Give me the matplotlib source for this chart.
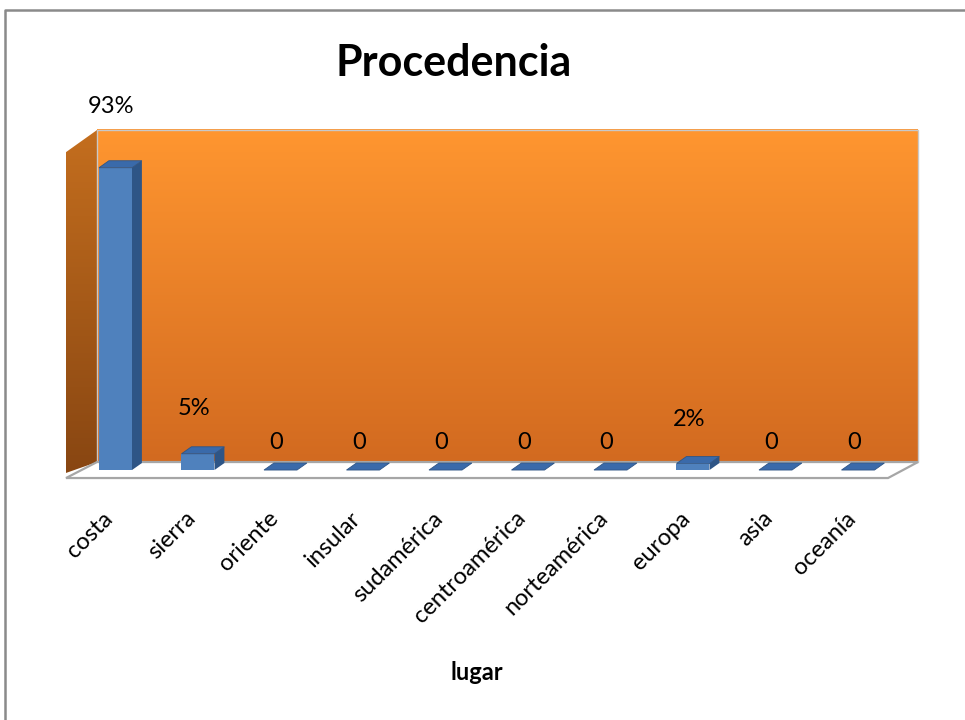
import matplotlib
matplotlib.use("Agg")
import matplotlib.pyplot as plt
import numpy as np
from matplotlib.patches import Polygon
from matplotlib.lines import Line2D

# ---------------- data ----------------
categories = ["costa", "sierra", "oriente", "insular", "sudamérica",
              "centroamérica", "norteamérica", "europa", "asia", "oceanía"]
values = [0.93, 0.05, 0, 0, 0, 0, 0, 0.02, 0, 0]
value_labels = ["93%", "5%", "0", "0", "0", "0", "0", "2%", "0", "0"]
title = "Procedencia"
xlabel = "lugar"

# ---------------- style ----------------
FONT = "Lato"
W, H = 965, 720
fig = plt.figure(figsize=(W / 100, H / 100), dpi=100)
ax = fig.add_axes([0, 0, 1, 1])
XLIM = (-1.4, 10.297)
YLIM = (-0.769, 1.446)

# depth geometry (style constants, data units)
bar_w = 0.40
bdx, bdy = 0.12, 0.0215          # bar depth offset
fy = 0.0246                      # floor half depth (y)
floor_front = (-0.60, 9.364)
floor_back = (-0.224, 9.727)
wall_top = 1.046

def gradient(c_top, c_bot, n=256):
    t = np.linspace(0, 1, n)[:, None]
    a = np.array(c_top)[None, :] / 255.0
    b = np.array(c_bot)[None, :] / 255.0
    return (a * (1 - t) + b * t)[:, None, :]

# back wall
bx0, bx1 = floor_back
ax.imshow(gradient((255, 150, 48), (210, 106, 32)), extent=(bx0, bx1, fy, wall_top),
          origin="upper", aspect="auto", zorder=1)
ax.add_patch(Polygon([(bx0, fy), (bx1, fy), (bx1, wall_top), (bx0, wall_top)],
                     closed=True, fill=False, edgecolor="#c8c8c8", lw=1, zorder=1.1))

# left wall
lw_poly = Polygon([(floor_front[0], -0.009), (bx0, fy), (bx0, wall_top), (floor_front[0], 0.978)],
                  closed=True, facecolor="none", edgecolor="none", zorder=1)
ax.add_patch(lw_poly)
im2 = ax.imshow(gradient((196, 110, 30), (136, 70, 18)),
                extent=(floor_front[0], bx0, -0.009, wall_top),
                origin="upper", aspect="auto", zorder=1)
im2.set_clip_path(lw_poly)

# floor
ax.add_patch(Polygon([(floor_front[0], -fy), (floor_front[1], -fy),
                      (floor_back[1], fy), (floor_back[0], fy)],
                     closed=True, facecolor="white", edgecolor="#a6a6a6", lw=1.6, zorder=2))

# bars
x = np.arange(len(categories))
front_c, side_c, top_c = "#4F81BD", "#2E5586", "#3A6AAA"
ax.bar(x, values, width=bar_w, bottom=0, color=front_c, edgecolor="none", zorder=3)
for xi, v in zip(x, values):
    l, r = xi - bar_w / 2, xi + bar_w / 2
    ax.add_patch(Polygon([(r, 0), (r + bdx, bdy), (r + bdx, v + bdy), (r, v)],
                         closed=True, facecolor=side_c, edgecolor="none", zorder=3))
    ax.add_patch(Polygon([(l, v), (r, v), (r + bdx, v + bdy), (l + bdx, v + bdy)],
                         closed=True, facecolor=top_c, edgecolor="#2E5586", lw=0.6, zorder=3.1))

# value labels
for xi, v, lab in zip(x, values, value_labels):
    off_px = 28 if v == 0 else 44 + 18 * v
    ax.annotate(lab, (xi, v), xytext=(-4 * 0.72, off_px * 0.72), textcoords="offset points",
                ha="center", va="center", fontsize=17, family=FONT, color="black", zorder=4)

# category labels
for xi, c in zip(x, categories):
    ax.annotate(c, (xi, 0), xytext=(-6 * 0.72, -45 * 0.72), textcoords="offset points",
                ha="right", va="center", rotation=45, rotation_mode="anchor",
                fontsize=17, family=FONT, color="black", zorder=4)

ax.set_xlim(*XLIM)
ax.set_ylim(*YLIM)
ax.axis("off")

fig.text(454 / W, 1 - 63 / H, title, ha="center", va="center", fontsize=31,
         fontweight="bold", family=FONT)
fig.text(477 / W, 1 - 672 / H, xlabel, ha="center", va="center", fontsize=17,
         fontweight="bold", family=FONT)

# outer frame
fig.add_artist(Line2D([5 / W, 5 / W, 1.0], [0, 1 - 10 / H, 1 - 10 / H],
                      transform=fig.transFigure, color="#8a8a8a", lw=1.8))

fig.savefig("out.png", dpi=100)
